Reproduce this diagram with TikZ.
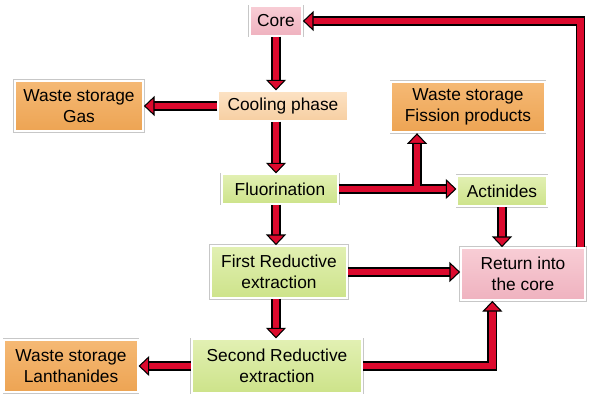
\documentclass[tikz,border=0pt]{standalone}
\usepackage{fontspec}
\setmainfont{Liberation Sans}
\usetikzlibrary{arrows.meta,shadows}

\definecolor{arrred}{HTML}{DC0A2E}
\definecolor{pinkT}{HTML}{F8CDD5}
\definecolor{pinkB}{HTML}{EFB2BF}
\definecolor{peachT}{HTML}{FCE2C4}
\definecolor{peachB}{HTML}{F7CFA2}
\definecolor{orangeT}{HTML}{F5B975}
\definecolor{orangeB}{HTML}{EDA453}
\definecolor{greenT}{HTML}{E2F0B3}
\definecolor{greenB}{HTML}{CDE38A}

\tikzset{
  box/.style={draw=white, line width=1.3pt, align=center, inner sep=0pt,
    font=\fontsize{13pt}{15.5pt}\selectfont,
    preaction={draw=black!22, line width=2.4pt},
    drop shadow={opacity=0.3, shadow xshift=0.8pt, shadow yshift=-0.8pt}},
  pinkbox/.style={box, top color=pinkT, bottom color=pinkB},
  peachbox/.style={box, top color=peachT, bottom color=peachB},
  wastebox/.style={box, top color=orangeT, bottom color=orangeB},
  greenbox/.style={box, top color=greenT, bottom color=greenB},
  flow/.style={arrred, line width=5pt, line join=miter,
    -{Triangle[length=8pt, width=15pt, line width=0.8pt, color=black, fill=arrred]},
    preaction={draw=black, line width=7.4pt, -, shorten >=7pt}}
}

\begin{document}
\begin{tikzpicture}[x=0.75pt, y=-0.75pt]
  \useasboundingbox (0,0) rectangle (589,396);

  % boxes
  \node[pinkbox, minimum width=39pt, minimum height=22pt] (core) at (276,21) {Core};
  \node[peachbox, minimum width=97pt, minimum height=22pt] (cool) at (283,106) {Cooling phase};
  \node[wastebox, minimum width=96pt, minimum height=38pt] (gas) at (79,106) {Waste storage\\Gas};
  \node[wastebox, minimum width=115pt, minimum height=38pt] (fis) at (468,107) {Waste storage\\Fission products};
  \node[greenbox, minimum width=87pt, minimum height=22pt] (fluo) at (280,189) {Fluorination};
  \node[greenbox, minimum width=67pt, minimum height=23pt] (act) at (502,191) {Actinides};
  \node[greenbox, minimum width=102pt, minimum height=39pt] (first) at (279,272) {First Reductive\\extraction};
  \node[greenbox, minimum width=128pt, minimum height=40pt] (sec) at (277,366) {Second Reductive\\extraction};
  \node[pinkbox, minimum width=93pt, minimum height=39pt] (ret) at (523,274) {Return into\\the core};
  \node[wastebox, minimum width=100pt, minimum height=39pt] (lan) at (71,366) {Waste storage\\Lanthanides};

  \coordinate (spine) at (276,0);
  \coordinate (jn) at (417,189);

  % arrows
  \draw[flow] (spine |- core.south) -- (spine |- cool.north);
  \draw[flow] (cool.west) -- (cool.west -| gas.east);
  \draw[flow] (spine |- cool.south) -- (spine |- fluo.north);
  \draw[flow] (jn) -- (jn |- fis.south);
  \draw[flow] (fluo.east) -- (fluo.east -| act.west);
  \draw[arrred, line width=5pt] (jn) -- ++(0,-8);
  \draw[flow] (spine |- fluo.south) -- (spine |- first.north);
  \draw[flow] (act.south) -- (act.south |- ret.north);
  \draw[flow] (first.east) -- (first.east -| ret.west);
  \draw[flow] (spine |- first.south) -- (spine |- sec.north);
  \draw[flow] (sec.west) -- (sec.west -| lan.east);
  \draw[flow] (sec.east) -| ([xshift=-23pt]ret.south);
  \draw[flow] ([xshift=-4pt]ret.north east) |- (core.east);
\end{tikzpicture}
\end{document}
